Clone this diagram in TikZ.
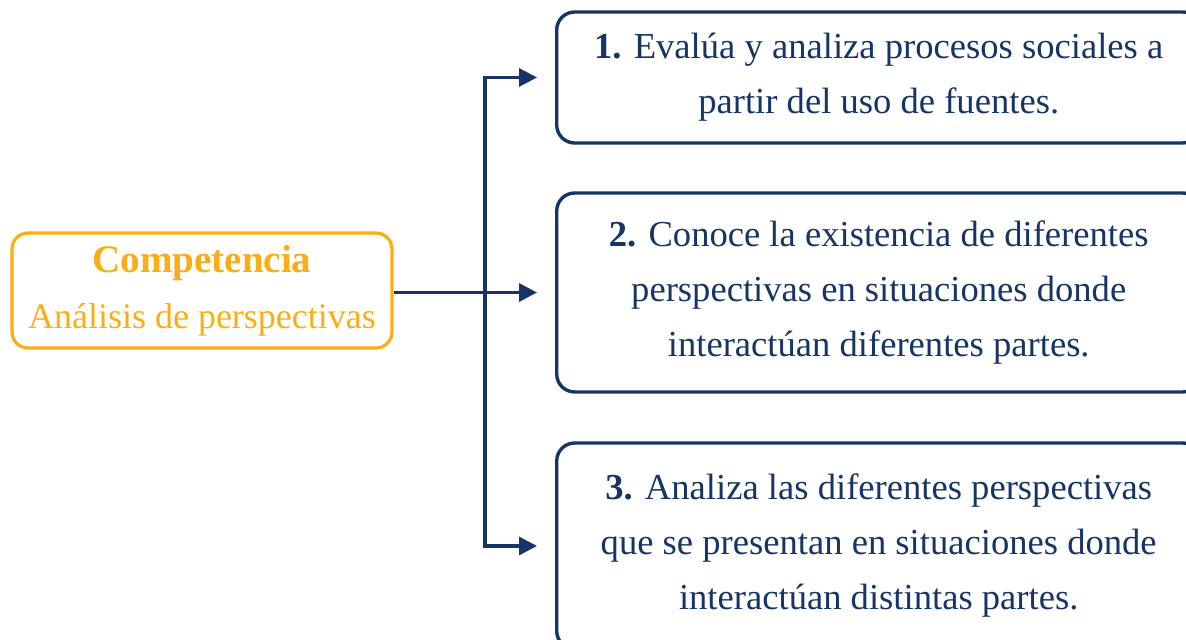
\documentclass[tikz,border=0pt]{standalone}
\usepackage{fontspec}
\setmainfont{Liberation Serif}
\usetikzlibrary{arrows.meta}

\begin{document}
\begin{tikzpicture}[x=0.5pt,y=-0.5pt]
  % Couleurs
  \definecolor{naranja}{RGB}{252, 172, 20}  % Orange
  \definecolor{marino}{RGB}{22, 52, 102}    % Bleu marine

  \tikzset{
    caja/.style={draw=marino, line width=1.7pt, rounded corners=9pt,
      minimum width=322pt, minimum height=#1, align=center,
      text=marino, anchor=west, inner sep=0pt},
    flecha/.style={draw=marino, line width=1.6pt, -{Triangle[length=9pt,width=9pt]}}
  }

  % Marges
  \useasboundingbox (0,0) rectangle (1186,640);

  % Competencia
  \node[draw=naranja, line width=1.6pt, rounded corners=8pt, text=naranja,
    minimum width=190pt, minimum height=57.5pt, align=center, inner sep=0pt,
    font=\fontsize{18}{28}\selectfont] (comp) at (202,290.5)
    {{\fontsize{19.5}{28}\selectfont\textbf{Competencia}}\\ Análisis de perspectivas};

  % Cajas
  \node[caja=65.5pt, font=\fontsize{18.3}{27.5}\selectfont] (uno) at (555,77.5)
    {\textbf{1.} Evalúa y analiza procesos sociales a\\ partir del uso de fuentes.};
  \node[caja=99.5pt, font=\fontsize{18.3}{27.5}\selectfont] (dos) at (555,292.5)
    {\textbf{2.} Conoce la existencia de diferentes\\ perspectivas en situaciones donde\\ interactúan diferentes partes.};
  \node[caja=103pt, font=\fontsize{18.3}{27.5}\selectfont] (tres) at (555,546)
    {\textbf{3.} Analiza las diferentes perspectivas\\ que se presentan en situaciones donde\\ interactúan distintas partes.};

  % Flechas
  \coordinate (nodo) at (485,292.5);
  \draw[flecha, shorten >=9pt] (comp.east |- nodo) -- (dos.west);
  \draw[flecha, shorten >=9pt] (nodo) |- (uno.west);
  \draw[flecha, shorten >=9pt] (nodo) |- (tres.west);
\end{tikzpicture}
\end{document}
